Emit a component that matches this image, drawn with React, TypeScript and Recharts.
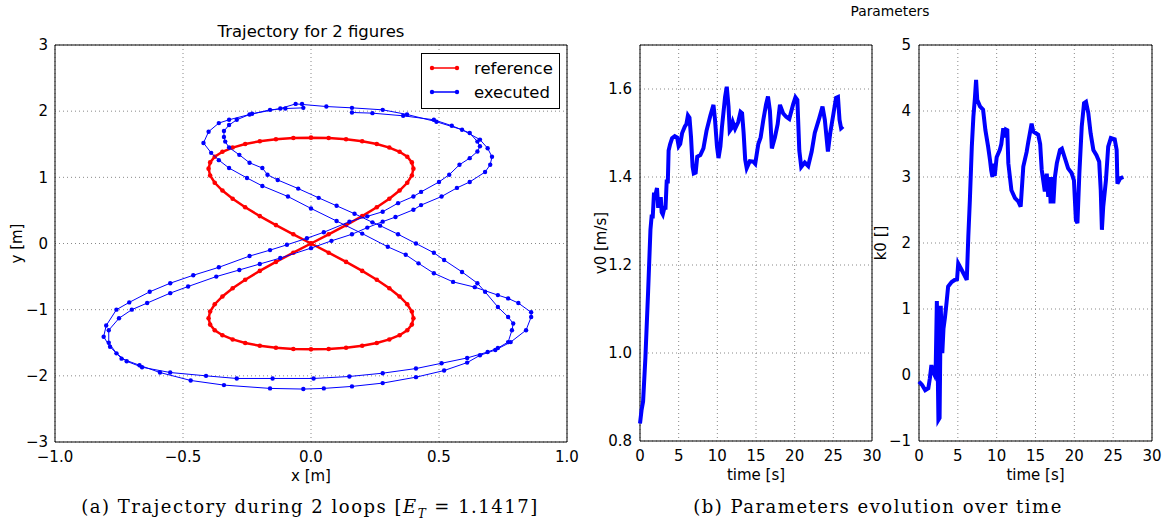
import React from 'react'
import { ScatterChart, Scatter, LineChart, Line, XAxis, YAxis, CartesianGrid, ReferenceArea, Legend } from 'recharts'

// reference figure-eight (x, y in m)
const refX = [0, 0.069, 0.137, 0.2, 0.257, 0.306, 0.346, 0.376, 0.394, 0.4, 0.394, 0.376, 0.346, 0.306, 0.257, 0.2, 0.137, 0.069, 0,
  -0.069, -0.137, -0.2, -0.257, -0.306, -0.346, -0.376, -0.394, -0.4, -0.394, -0.376, -0.346, -0.306, -0.257, -0.2, -0.137, -0.069, 0,
  0.069, 0.137, 0.2, 0.257, 0.306, 0.346, 0.376, 0.394, 0.4, 0.394, 0.376, 0.346, 0.306, 0.257, 0.2, 0.137, 0.069, 0,
  -0.069, -0.137, -0.2, -0.257, -0.306, -0.346, -0.376, -0.394, -0.4, -0.394, -0.376, -0.346, -0.306, -0.257, -0.2, -0.137, -0.069, 0]
const refY = [0, 0.139, 0.278, 0.414, 0.547, 0.676, 0.8, 0.918, 1.028, 1.131, 1.226, 1.311, 1.386, 1.45, 1.504, 1.545, 1.576, 1.594, 1.6,
  1.594, 1.576, 1.545, 1.504, 1.45, 1.386, 1.311, 1.226, 1.131, 1.028, 0.918, 0.8, 0.676, 0.547, 0.414, 0.278, 0.139, 0,
  -0.139, -0.278, -0.414, -0.547, -0.676, -0.8, -0.918, -1.028, -1.131, -1.226, -1.311, -1.386, -1.45, -1.504, -1.545, -1.576, -1.594, -1.6,
  -1.594, -1.576, -1.545, -1.504, -1.45, -1.386, -1.311, -1.226, -1.131, -1.028, -0.918, -0.8, -0.676, -0.547, -0.414, -0.278, -0.139, 0]

// executed path, two loops
const exeX = [-0.035, -0.03, -0.1, -0.16, -0.24, -0.29, -0.32, -0.34, -0.34, -0.335,
  -0.32, -0.28, -0.24, -0.19, -0.17, -0.13, -0.05, 0.03, 0.1, 0.17,
  0.24, 0.27, 0.34, 0.41, 0.48, 0.52, 0.59, 0.65, 0.68, 0.73,
  0.77, 0.79, 0.785, 0.77, 0.73, 0.69, 0.61, 0.51, 0.41, 0.28,
  0.15, 0.01, -0.15, -0.29, -0.41, -0.55, -0.66, -0.72, -0.76, -0.79,
  -0.79, -0.75, -0.7, -0.64, -0.55, -0.48, -0.37, -0.28, -0.2, -0.12,
  0, 0.08, 0.16, 0.22, 0.28, 0.33, 0.4, 0.43, 0.51, 0.57,
  0.62, 0.68, 0.7, 0.707, 0.69, 0.66, 0.59, 0.49, 0.375, 0.28,
  0.16, 0.06, -0.06, -0.12, -0.23, -0.32, -0.36, -0.4, -0.42, -0.39,
  -0.36, -0.32, -0.25, -0.19, -0.09, 0, 0.1, 0.2, 0.3, 0.37,
  0.42, 0.48, 0.555, 0.64, 0.73, 0.77, 0.81, 0.86, 0.86, 0.84,
  0.78, 0.72, 0.66, 0.61, 0.52, 0.41, 0.28, 0.16, 0.05, -0.03,
  -0.16, -0.34, -0.47, -0.59, -0.67, -0.74, -0.785, -0.81, -0.8, -0.76,
  -0.71, -0.63, -0.55, -0.46, -0.36, -0.24, -0.16, -0.094, -0.016, 0.05,
  0.15, 0.22, 0.28, 0.34, 0.4, 0.43, 0.5, 0.54, 0.58, 0.62,
  0.65, 0.66, 0.65, 0.62, 0.55, 0.48, 0.36, 0.24, 0.16]
const exeY = [2.11, 2.05, 2.04, 2.02, 1.95, 1.87, 1.79, 1.7, 1.61, 1.54,
  1.45, 1.34, 1.22, 1.14, 1.04, 0.96, 0.83, 0.69, 0.57, 0.45,
  0.32, 0.27, 0.14, 0, -0.14, -0.25, -0.43, -0.6, -0.73, -0.96,
  -1.11, -1.21, -1.31, -1.49, -1.58, -1.64, -1.73, -1.81, -1.89, -1.96,
  -2.01, -2.04, -2.04, -2.04, -2, -1.95, -1.87, -1.78, -1.66, -1.5,
  -1.31, -1.13, -1, -0.9, -0.75, -0.65, -0.5, -0.4, -0.31, -0.22,
  -0.07, 0.04, 0.14, 0.24, 0.33, 0.4, 0.51, 0.58, 0.71, 0.84,
  0.93, 1.08, 1.19, 1.31, 1.44, 1.57, 1.72, 1.84, 1.95, 2.02,
  2.05, 2.07, 2.11, 2.04, 1.96, 1.87, 1.82, 1.69, 1.52, 1.37,
  1.26, 1.14, 0.99, 0.87, 0.71, 0.53, 0.34, 0.15, -0.05, -0.17,
  -0.3, -0.45, -0.58, -0.66, -0.78, -0.83, -0.9, -1.04, -1.11, -1.31,
  -1.49, -1.61, -1.69, -1.8, -1.92, -2.02, -2.11, -2.16, -2.19, -2.2,
  -2.19, -2.14, -2.07, -1.95, -1.84, -1.74, -1.56, -1.41, -1.24, -1,
  -0.89, -0.73, -0.6, -0.48, -0.36, -0.19, -0.1, -0.02, 0.08, 0.17,
  0.33, 0.41, 0.48, 0.61, 0.71, 0.78, 0.93, 1.04, 1.19, 1.29,
  1.39, 1.47, 1.54, 1.67, 1.78, 1.87, 1.93, 1.97, 1.98]

// v0 over time
const v0Time = [0, 0.2, 0.4, 0.7, 1.05, 1.35, 1.5, 1.65, 1.8, 2, 2.2, 2.35, 2.5, 2.7, 2.8, 2.95, 3.15, 3.3, 3.45, 3.6,
  3.7, 3.9, 4.15, 4.5, 4.8, 5, 5.2, 5.45, 5.8, 6, 6.2, 6.4, 6.6, 6.8, 6.95, 7.2, 7.4, 7.8, 8.2, 8.6,
  9.1, 9.5, 9.7, 9.95, 10.15, 10.4, 10.6, 11, 11.22, 11.45, 11.6, 11.8, 12, 12.3, 12.7, 13, 13.2, 13.4, 13.6, 13.8,
  14.2, 14.65, 14.9, 15.3, 15.6, 15.95, 16.3, 16.55, 16.8, 17.05, 17.45, 17.8, 18.1, 18.5, 18.9, 19.3, 19.8, 20.1, 20.35, 20.6,
  20.85, 21.3, 21.75, 22.2, 22.6, 23.2, 23.6, 23.9, 24.3, 24.6, 24.95, 25.35, 25.6, 25.8, 26, 26.25]
const v0Values = [0.84, 0.87, 0.89, 0.99, 1.14, 1.28, 1.31, 1.31, 1.36, 1.36, 1.375, 1.33, 1.35, 1.35, 1.32, 1.315, 1.33, 1.33, 1.39, 1.39,
  1.46, 1.475, 1.488, 1.493, 1.49, 1.47, 1.475, 1.5, 1.515, 1.52, 1.54, 1.535, 1.49, 1.423, 1.408, 1.41, 1.446, 1.45, 1.465, 1.505,
  1.54, 1.564, 1.53, 1.47, 1.443, 1.47, 1.514, 1.582, 1.605, 1.56, 1.505, 1.51, 1.525, 1.51, 1.525, 1.548, 1.545, 1.5, 1.44, 1.42,
  1.436, 1.435, 1.43, 1.475, 1.49, 1.53, 1.565, 1.583, 1.55, 1.465, 1.49, 1.52, 1.564, 1.545, 1.537, 1.532, 1.565, 1.581, 1.575, 1.46,
  1.423, 1.433, 1.425, 1.458, 1.5, 1.535, 1.56, 1.53, 1.458, 1.5, 1.537, 1.58, 1.582, 1.53, 1.511, 1.515]

// k0 over time
const k0Time = [0, 0.4, 0.8, 1.2, 1.4, 1.6, 1.8, 2, 2.15, 2.3, 2.4, 2.5, 2.65, 2.8, 2.9, 3, 3.15, 3.35, 3.55, 3.75,
  4.2, 4.6, 4.9, 5.05, 5.5, 5.9, 6.15, 6.35, 6.55, 6.8, 7, 7.2, 7.35, 7.5, 7.85, 8.25, 8.55, 8.9, 9.15, 9.3,
  9.45, 9.6, 9.75, 10, 10.4, 10.6, 10.85, 11.05, 11.2, 11.37, 11.5, 11.9, 12.36, 12.78, 13.09, 13.43, 13.86, 14.07, 14.5, 14.71,
  15.35, 15.6, 15.8, 16.2, 16.45, 16.64, 16.8, 16.95, 17.1, 17.3, 17.5, 17.75, 18.15, 18.4, 18.8, 19.2, 19.65, 19.95, 20.2, 20.4,
  20.65, 20.95, 21.25, 21.5, 21.8, 22.1, 22.45, 22.85, 23.2, 23.4, 23.55, 23.72, 24.07, 24.36, 24.7, 25.2, 25.45, 25.55, 25.9, 26.3]
const k0Values = [-0.1, -0.15, -0.23, -0.2, -0.05, 0.15, 0.05, 0, 0.1, 1.12, 0.2, -0.68, -0.65, 1.05, 0.6, 0.33, 0.7, 0.88, 1.1, 1.34,
  1.41, 1.44, 1.45, 1.69, 1.59, 1.5, 1.44, 2.1, 2.65, 3.46, 3.91, 4.2, 4.47, 4.17, 4.07, 4.02, 3.71, 3.46, 3.25, 3.1,
  3, 3.2, 3.02, 3.3, 3.41, 3.5, 3.74, 3.6, 3.72, 3.71, 3.21, 2.8, 2.68, 2.63, 2.55, 3.16, 3.38, 3.53, 3.81, 3.69,
  3.64, 3.5, 3.11, 2.78, 3.05, 2.7, 3, 2.6, 3, 2.6, 3, 3.21, 3.41, 3.43, 3.28, 3.13, 3.06, 2.95, 2.35, 2.3,
  3.06, 3.76, 4.12, 4.14, 3.97, 3.66, 3.41, 3.33, 3.23, 2.8, 2.2, 2.55, 2.95, 3.46, 3.59, 3.57, 3.41, 2.9, 2.98, 3]

const seriesNames = ['reference', 'executed']
const xyXTicks = [-1, -0.5, 0, 0.5, 1]
const xyYTicks = [-3, -2, -1, 0, 1, 2, 3]
const timeTicks = [0, 5, 10, 15, 20, 25, 30]
const v0Ticks = [0.8, 1.0, 1.2, 1.4, 1.6]
const k0Ticks = [-1, 0, 1, 2, 3, 4, 5]

const refData = refX.map((x, i) => ({ x, y: refY[i] }))
const exeData = exeX.map((x, i) => ({ x, y: exeY[i] }))
const v0Data = v0Time.map((t, i) => ({ t, v: v0Values[i] }))
const k0Data = k0Time.map((t, i) => ({ t, k: k0Values[i] }))

const FONT = '"DejaVu Sans", sans-serif'
const SERIF = '"DejaVu Serif", serif'
const tickStyle = { fill: '#000', fontSize: 15, fontFamily: FONT }
const fmt = (d: number) => (v: number) => (v < 0 ? '\u2212' : '') + Math.abs(v).toFixed(d)

function AxisTitle(props: any) {
  const { viewBox, text, dx, dy, vertical } = props
  if (vertical) {
    const cx = viewBox.x + dx
    const cy = viewBox.y + viewBox.height / 2
    return (
      <text x={cx} y={cy} transform={`rotate(-90 ${cx} ${cy})`} textAnchor="middle" dominantBaseline="central"
        fontSize={15} fontFamily={FONT} fill="#000">{text}</text>
    )
  }
  return (
    <text x={viewBox.x + viewBox.width / 2} y={viewBox.y + dy} textAnchor="middle" dominantBaseline="central"
      fontSize={15} fontFamily={FONT} fill="#000">{text}</text>
  )
}

function TrajLegend(props: any) {
  const items = [...(props.payload || [])].sort(
    (a: any, b: any) => seriesNames.indexOf(a.value) - seriesNames.indexOf(b.value))
  return (
    <div style={{ border: '1px solid #000', background: '#fff', width: 137, height: 52, boxSizing: 'content-box', paddingTop: 2 }}>
      {items.map((it: any) => (
        <div key={it.value} style={{ display: 'flex', alignItems: 'center', height: 24 }}>
          <svg width={46} height={12} style={{ marginLeft: 6 }}>
            <line x1={4} y1={6} x2={29} y2={6} stroke={it.color} strokeWidth={1.5} />
            <circle cx={4} cy={6} r={2.2} fill={it.color} />
            <circle cx={29} cy={6} r={2.2} fill={it.color} />
          </svg>
          <span style={{ fontSize: 16.5, fontFamily: FONT, color: '#000' }}>{it.value}</span>
        </div>
      ))}
    </div>
  )
}

const dot = (color: string, r: number) => (p: any) => <circle cx={p.cx} cy={p.cy} r={r} fill={color} />

export default function App() {
  return (
    <div style={{ position: 'absolute', left: 0, top: 0, width: 1168, height: 524, background: '#fff', fontFamily: FONT }}>
      <div style={{ position: 'absolute', left: 55, width: 512, top: 22, textAlign: 'center', fontSize: 16.5, color: '#000' }}>
        Trajectory for 2 figures
      </div>
      <div style={{ position: 'absolute', left: 0, top: 0 }}>
        <ScatterChart width={584} height={490} margin={{ top: 45, right: 17, bottom: 0, left: 0 }}>
          <CartesianGrid stroke="#888" strokeDasharray="1 3" />
          <XAxis type="number" dataKey="x" domain={[-1, 1]} ticks={xyXTicks} tickFormatter={fmt(1)} tick={tickStyle}
            axisLine={false} tickLine={false} tickMargin={3} height={48}
            label={<AxisTitle text="x [m]" dy={34} />} />
          <YAxis type="number" dataKey="y" domain={[-3, 3]} ticks={xyYTicks} tickFormatter={fmt(0)} tick={tickStyle}
            axisLine={false} tickLine={false} tickMargin={1} width={55}
            label={<AxisTitle text="y [m]" dx={17} vertical />} />
          <ReferenceArea x1={-1} x2={1} y1={-3} y2={3} fill="none" fillOpacity={0} stroke="#000" strokeWidth={1} />
          <Scatter name="reference" data={refData} fill="#ff0000" line={{ stroke: '#ff0000', strokeWidth: 2.5 }}
            shape={dot('#ff0000', 2.3)} isAnimationActive={false} />
          <Scatter name="executed" data={exeData} fill="#0000ff" line={{ stroke: '#0000ff', strokeWidth: 1 }}
            shape={dot('#0000ff', 2.2)} isAnimationActive={false} />
          <Legend layout="vertical" align="center" verticalAlign="middle" content={<TrajLegend />}
            wrapperStyle={{ left: 421, top: 53, width: 139, height: 56 }} />
        </ScatterChart>
      </div>

      <div style={{ position: 'absolute', left: 640, width: 500, top: 3, textAlign: 'center', fontSize: 13.8, color: '#000' }}>
        Parameters
      </div>
      <div style={{ position: 'absolute', left: 580, top: 0 }}>
        <LineChart width={306} height={490} data={v0Data} margin={{ top: 45, right: 14, bottom: 0, left: 0 }}>
          <CartesianGrid stroke="#888" strokeDasharray="1 3" />
          <XAxis type="number" dataKey="t" domain={[0, 30]} ticks={timeTicks} tick={tickStyle}
            axisLine={false} tickLine={false} tickMargin={3} height={49}
            label={<AxisTitle text="time [s]" dy={34} />} />
          <YAxis type="number" domain={[0.8, 1.7]} ticks={v0Ticks} tickFormatter={fmt(1)} tick={tickStyle}
            axisLine={false} tickLine={false} tickMargin={2} width={60} allowDataOverflow
            label={<AxisTitle text="v0 [m/s]" dx={21} vertical />} />
          <ReferenceArea x1={0} x2={30} y1={0.8} y2={1.7} fill="none" fillOpacity={0} stroke="#000" strokeWidth={1} />
          <Line type="linear" dataKey="v" stroke="#0000ff" strokeWidth={4} dot={false} isAnimationActive={false} />
        </LineChart>
      </div>
      <div style={{ position: 'absolute', left: 870, top: 0 }}>
        <LineChart width={296} height={490} data={k0Data} margin={{ top: 45, right: 14, bottom: 0, left: 0 }}>
          <CartesianGrid stroke="#888" strokeDasharray="1 3" />
          <XAxis type="number" dataKey="t" domain={[0, 30]} ticks={timeTicks} tick={tickStyle}
            axisLine={false} tickLine={false} tickMargin={3} height={49}
            label={<AxisTitle text="time [s]" dy={34} />} />
          <YAxis type="number" domain={[-1, 5]} ticks={k0Ticks} tickFormatter={fmt(0)} tick={tickStyle}
            axisLine={false} tickLine={false} tickMargin={2} width={49} allowDataOverflow
            label={<AxisTitle text="k0 []" dx={11} vertical />} />
          <ReferenceArea x1={0} x2={30} y1={-1} y2={5} fill="none" fillOpacity={0} stroke="#000" strokeWidth={1} />
          <Line type="linear" dataKey="k" stroke="#0000ff" strokeWidth={4} dot={false} isAnimationActive={false} />
        </LineChart>
      </div>

      <div style={{ position: 'absolute', left: 0, width: 620, top: 496, textAlign: 'center', fontSize: 18,
        letterSpacing: 1.5, fontFamily: SERIF, color: '#000' }}>
        (a) Trajectory during 2 loops [<i>E</i><sub style={{ fontSize: 12 }}><i>T</i></sub> = 1.1417]
      </div>
      <div style={{ position: 'absolute', left: 600, width: 556, top: 496, textAlign: 'center', fontSize: 18,
        letterSpacing: 1.5, fontFamily: SERIF, color: '#000' }}>
        (b) Parameters evolution over time
      </div>
    </div>
  )
}
